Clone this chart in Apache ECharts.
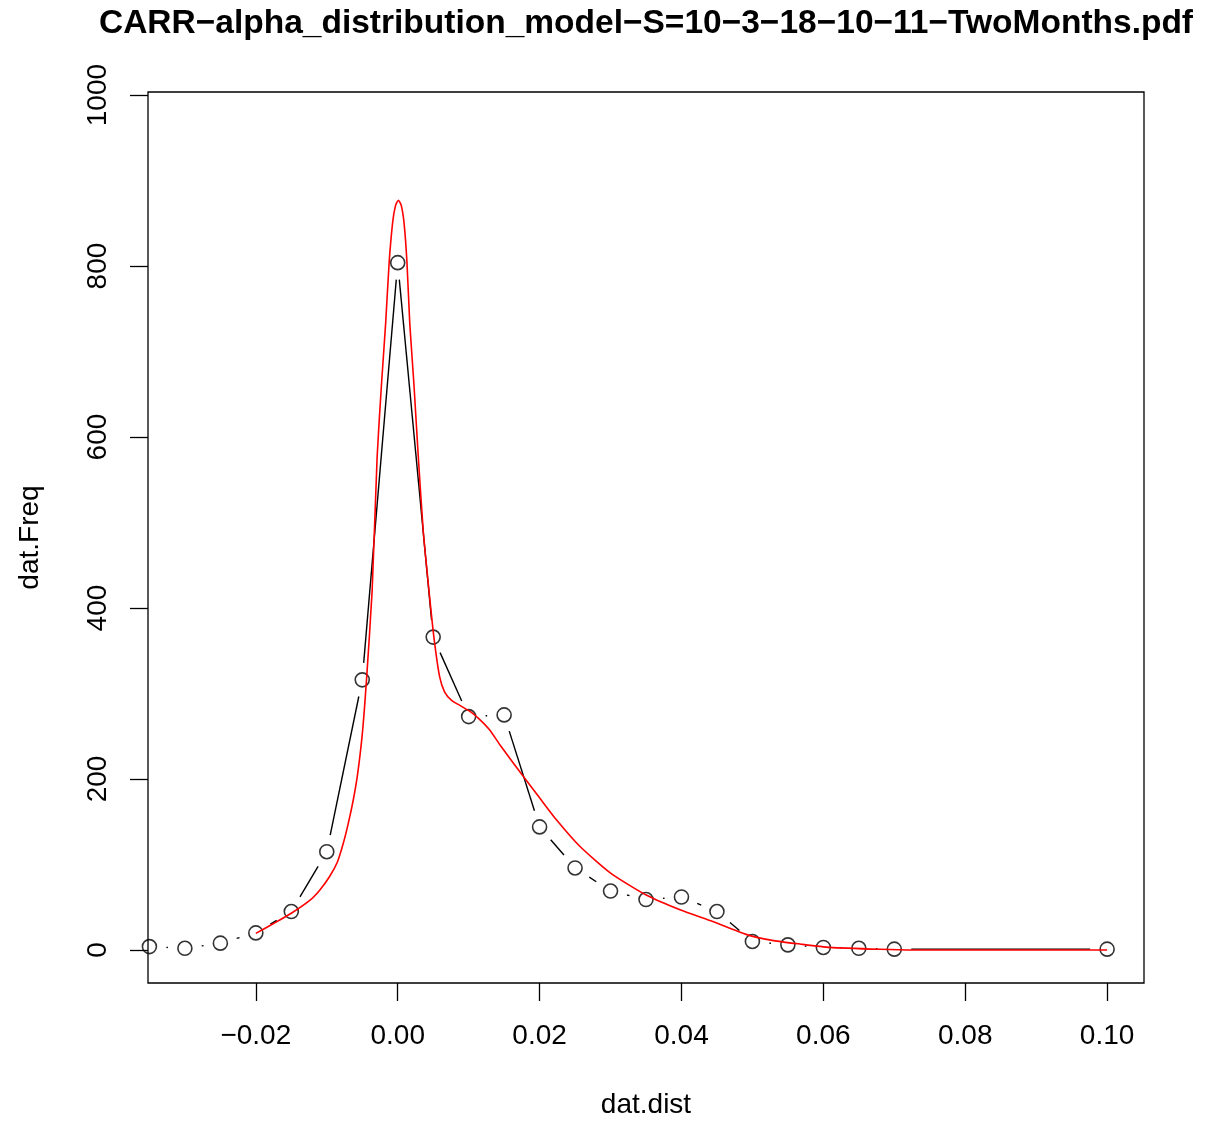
<!DOCTYPE html>
<html>
<head>
<meta charset="utf-8">
<script src="https://cdn.jsdelivr.net/npm/echarts@6/dist/echarts.min.js"></script>
<style>
html,body{margin:0;padding:0;background:#fff;}
#chart{width:1205px;height:1124px;}
</style>
</head>
<body>
<div id="chart"></div>
<script>
// observed frequencies (black points)
var distX = [-0.035, -0.03, -0.025, -0.02, -0.015, -0.01, -0.005, 0.0, 0.005, 0.01, 0.015, 0.02, 0.025, 0.03, 0.035, 0.04, 0.045, 0.05, 0.055, 0.06, 0.065, 0.07, 0.10];
var freqY = [4, 2, 8, 20, 45, 115, 316, 804, 366, 273, 275, 144, 96, 69, 59, 62, 45, 10, 6, 3, 2, 1, 1];

// fitted alpha-distribution curve (red)
var fitX = [-0.0200, -0.0175, -0.0150, -0.0124, -0.0110, -0.0096, -0.0085, -0.0077, -0.0070, -0.0063, -0.0057, -0.0050, -0.0044, -0.0036, -0.0029, -0.0023, -0.0017, -0.0012, -0.0007, -0.0003, 0.0001, 0.0005, 0.0009, 0.0013, 0.0017, 0.0023, 0.0029, 0.0036, 0.0044, 0.0051, 0.0059, 0.0066, 0.0076, 0.0090, 0.0102, 0.0115, 0.0130, 0.0144, 0.0160, 0.0179, 0.0200, 0.0224, 0.0257, 0.0300, 0.0351, 0.0398, 0.0445, 0.0492, 0.0530, 0.0567, 0.0609, 0.0680, 0.0727, 0.0850, 0.1000];
var fitY = [19.5, 31, 43, 58, 70, 86, 103, 124, 147, 174, 203, 252, 316, 421, 577, 660, 733, 805, 852, 871, 877, 871, 850, 805, 733, 660, 577, 490, 421, 366, 320, 302, 292, 285, 279, 270, 257, 240, 222, 201, 178, 152, 121, 90, 64, 47, 33, 18, 11, 7, 3.1, 0.8, 0, 0, 0];

var xTicks = [-0.02, 0.00, 0.02, 0.04, 0.06, 0.08, 0.10];
var yTicks = [0, 200, 400, 600, 800, 1000];

var titleText = 'CARR\u2212alpha_distribution_model\u2212S=10\u22123\u221218\u221210\u221211\u2212TwoMonths.pdf';
var xName = 'dat.dist';
var yName = 'dat.Freq';

var pts = distX.map(function (x, i) { return [x, freqY[i]]; });
var segs = [];
for (var i = 0; i < pts.length - 1; i++) {
  segs.push([pts[i][0], pts[i][1], pts[i + 1][0], pts[i + 1][1]]);
}
var fit = fitX.map(function (x, i) { return [x, fitY[i]]; });

var FONT = '"Liberation Sans", Arial, Helvetica, sans-serif';
var GAP = 17;

var chart = echarts.init(document.getElementById('chart'), null, {renderer: 'canvas'});
chart.setOption({
  backgroundColor: '#ffffff',
  animation: false,
  title: {
    text: titleText,
    left: 646,
    top: 7,
    padding: 0,
    textAlign: 'center',
    textStyle: {fontFamily: FONT, fontSize: 33.5, fontWeight: 'bold', color: '#000'}
  },
  grid: {
    left: 148, top: 92, width: 996, height: 891,
    show: true, borderColor: '#000', borderWidth: 1.3, backgroundColor: 'transparent'
  },
  xAxis: {
    type: 'value',
    min: -0.0352, max: 0.1052,
    name: xName,
    nameLocation: 'middle',
    nameGap: 108,
    nameTextStyle: {fontFamily: FONT, fontSize: 28, color: '#000'},
    axisLine: {show: false, onZero: false},
    splitLine: {show: false},
    axisTick: {show: true, length: 18, customValues: xTicks, lineStyle: {color: '#000', width: 1.3}},
    axisLabel: {
      customValues: xTicks,
      margin: 39,
      fontFamily: FONT, fontSize: 28, color: '#000',
      formatter: function (v) { return v.toFixed(2).replace('-', '\u2212'); }
    }
  },
  yAxis: {
    type: 'value',
    min: -38.6, max: 1003.6,
    name: yName,
    nameLocation: 'middle',
    nameRotate: 90,
    nameGap: 104,
    nameTextStyle: {fontFamily: FONT, fontSize: 28, color: '#000'},
    axisLine: {show: false, onZero: false},
    splitLine: {show: false},
    axisTick: {show: true, length: 18, customValues: yTicks, lineStyle: {color: '#000', width: 1.3}},
    axisLabel: {
      customValues: yTicks,
      rotate: 90,
      margin: 36,
      fontFamily: FONT, fontSize: 28, color: '#000',
      formatter: function (v) { return String(Math.round(v)); }
    }
  },
  series: [
    {
      type: 'custom',
      name: 'segments',
      coordinateSystem: 'cartesian2d',
      data: segs,
      encode: {x: [0, 2], y: [1, 3]},
      z: 2,
      renderItem: function (params, api) {
        var p1 = api.coord([api.value(0), api.value(1)]);
        var p2 = api.coord([api.value(2), api.value(3)]);
        var dx = p2[0] - p1[0], dy = p2[1] - p1[1];
        var d = Math.sqrt(dx * dx + dy * dy);
        if (d <= 2 * GAP) { return {type: 'group', children: []}; }
        var ux = dx / d, uy = dy / d;
        return {
          type: 'line',
          shape: {x1: p1[0] + ux * GAP, y1: p1[1] + uy * GAP, x2: p2[0] - ux * GAP, y2: p2[1] - uy * GAP},
          style: {stroke: '#000', lineWidth: 1.4}
        };
      }
    },
    {
      type: 'scatter',
      name: 'points',
      data: pts,
      symbol: 'circle',
      symbolSize: 14,
      z: 3,
      itemStyle: {color: 'rgba(0,0,0,0)', borderColor: '#000', borderWidth: 1.6}
    },
    {
      type: 'line',
      name: 'fit',
      data: fit,
      showSymbol: false,
      smooth: 0.2,
      z: 4,
      lineStyle: {color: '#ff0000', width: 1.6}
    }
  ]
});
</script>
</body>
</html>
